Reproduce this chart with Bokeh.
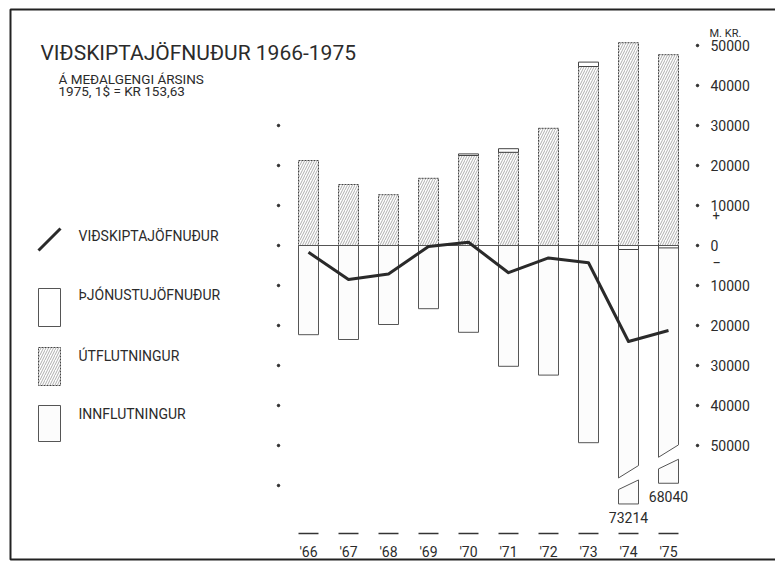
from bokeh.plotting import figure
from bokeh.models import Range1d, Label
from bokeh.core.properties import value
from bokeh.embed import file_html
from bokeh.resources import INLINE

# ---------------- data (millions of kr, 1975 average rate) ----------------
years = [1966, 1967, 1968, 1969, 1970, 1971, 1972, 1973, 1974, 1975]
year_labels = ["'66", "'67", "'68", "'69", "'70", "'71", "'72", "'73", "'74", "'75"]
exports = [21250, 15250, 12700, 16800, 22500, 23300, 29300, 44750, 50700, 47700]
services = [0, 0, 0, 0, 400, 900, 0, 1100, -1000, -600]
imports = [22300, 23500, 19750, 15800, 21700, 30200, 32400, 49300, 73214, 68040]
trade_balance = [-1700, -8500, -7100, -250, 800, -6800, -3100, -4300, -24000, -21250]

right_ticks = [50000, 40000, 30000, 20000, 10000, 0, -10000, -20000, -30000, -40000, -50000]
right_tick_labels = ["50000", "40000", "30000", "20000", "10000", "0",
                     "10000", "20000", "30000", "40000", "50000"]
left_ticks = [30000, 20000, 10000, 0, -10000, -20000, -30000, -40000, -50000, -60000]

title = "VIÐSKIPTAJÖFNUÐUR 1966-1975"
subtitle = ["Á MEÐALGENGI ÁRSINS", "1975, 1$ = KR 153,63"]
unit_label = "M. KR."
legend_labels = ["VIÐSKIPTAJÖFNUÐUR", "ÞJÓNUSTUJÖFNUÐUR", "ÚTFLUTNINGUR", "INNFLUTNINGUR"]

# ---------------- layout helpers ----------------
W, H = 775, 563
FONT = value("Roboto")
INK = "#2b2b2b"
GRAY = "#555555"


def px_x(ix):  # screen pixel -> data x
    return 1966 + (ix - 308) / 40.0


def px_y(iy):  # screen pixel -> data y
    return (245 - iy) * 250.0


p = figure(width=W, height=H, output_backend="svg", toolbar_location=None,
           x_range=Range1d(px_x(0), px_x(W)), y_range=Range1d(px_y(H), px_y(0)),
           x_axis_type=None, y_axis_type=None, min_border=0)
p.grid.visible = False
p.outline_line_color = None
p.background_fill_color = "white"

# frame (left, top, bottom)
p.line([px_x(775), px_x(10), px_x(10), px_x(775)], [px_y(9), px_y(9), px_y(559), px_y(559)],
       line_color="#222222", line_width=2)

BW = 0.5  # bar width in years
HATCH = dict(hatch_pattern="/", hatch_color="#8a8a8a", hatch_scale=5, hatch_weight=0.7)

# exports (hatched, dashed outline)
p.vbar(x=years, top=exports, bottom=0, width=BW, fill_color="white",
       line_color="#444444", line_dash="2 1", line_width=1, **HATCH)

# positive services stacked above exports
sx = [y for y, s in zip(years, services) if s > 0]
sb = [e for e, s in zip(exports, services) if s > 0]
st = [e + s for e, s in zip(exports, services) if s > 0]
p.vbar(x=sx, bottom=sb, top=st, width=BW, fill_color="white", line_color="#444444", line_width=1)

# imports
LIMIT = 60000
CUT = 8600
nx = [y for y, v in zip(years, imports) if v <= LIMIT]
nb = [-v for v in imports if v <= LIMIT]
p.vbar(x=nx, top=0, bottom=nb, width=BW, fill_color="#fcfcfc", line_color=GRAY, line_width=1)

bxs, bys, sxs, sys_, blab_x, blab_y, blab_t = [], [], [], [], [], [], []
for y, v in zip(years, imports):
    if v > LIMIT:
        b = -(v - CUT)
        l, r = y - BW / 2, y + BW / 2
        bxs.append([l, r, r, l])
        bys.append([0, 0, b + 9600, b + 6500])
        sxs.append([l, r, r, l])
        sys_.append([b + 3600, b + 6000, b, b])
        blab_x.append(y)
        blab_y.append(b - 3300)
        blab_t.append(str(v))
p.patches(bxs, bys, fill_color="#fcfcfc", line_color=GRAY, line_width=1)
p.patches(sxs, sys_, fill_color="#fcfcfc", line_color=GRAY, line_width=1)
p.text(x=blab_x, y=blab_y, text=blab_t, text_font=FONT, text_font_size="14px",
       text_color=INK, text_align="center", text_baseline="middle")

# negative services at top of import side
nsx = [y for y, s in zip(years, services) if s < 0]
nst = [s for s in services if s < 0]
p.vbar(x=nsx, top=0, bottom=nst, width=BW, fill_color="white", line_color="#444444", line_width=1)

# zero line
p.line([years[0] - BW / 2, years[-1] + BW / 2], [0, 0], line_color=GRAY, line_width=1)

# trade balance line
p.line(years, trade_balance, line_color="#2a2a2a", line_width=3, line_join="round")

# dot scales
p.scatter(x=[px_x(278)] * len(left_ticks), y=left_ticks, size=2.5, color=INK)
p.scatter(x=[px_x(697)] * len(right_ticks), y=right_ticks, size=2.5, color=INK)
p.text(x=[px_x(710)] * len(right_ticks), y=right_ticks, text=right_tick_labels,
       text_font=FONT, text_font_size="14px", text_color=INK,
       text_align="left", text_baseline="middle")
p.add_layout(Label(x=px_x(709), y=px_y(33), text=unit_label, text_font="Roboto",
                   text_font_size="11px", text_color=INK, text_baseline="middle"))
p.add_layout(Label(x=px_x(712), y=px_y(215), text="+", text_font="Roboto",
                   text_font_size="13px", text_color=INK, text_baseline="middle"))
p.add_layout(Label(x=px_x(712), y=px_y(262), text="\u2212", text_font="Roboto",
                   text_font_size="15px", text_color=INK, text_baseline="middle"))

# year marks
p.segment(x0=[y - BW / 2 for y in years], x1=[y + BW / 2 for y in years],
          y0=[px_y(533)] * len(years), y1=[px_y(533)] * len(years),
          line_color="#333333", line_width=1.5)
p.text(x=years, y=[px_y(551)] * len(years), text=year_labels, text_font=FONT,
       text_font_size="14px", text_color=INK, text_align="center", text_baseline="middle")

# titles
p.add_layout(Label(x=px_x(40), y=px_y(52), text=title, text_font="Roboto",
                   text_font_size="21px", text_color=INK, text_baseline="middle"))
for i, s in enumerate(subtitle):
    p.add_layout(Label(x=px_x(58), y=px_y(78 + 12 * i), text=s, text_font="Roboto",
                       text_font_size="13.5px", text_color=INK, text_baseline="middle"))

# legend (drawn by hand)
p.line([px_x(38), px_x(60)], [px_y(250), px_y(228)], line_color="#2a2a2a", line_width=3)
p.quad(left=px_x(38), right=px_x(60), top=px_y(288), bottom=px_y(326),
       fill_color="white", line_color=GRAY, line_width=1)
p.quad(left=px_x(38), right=px_x(60), top=px_y(347), bottom=px_y(385),
       fill_color="white", line_color="#444444", line_dash="2 1", line_width=1, **HATCH)
p.quad(left=px_x(38), right=px_x(60), top=px_y(405), bottom=px_y(441),
       fill_color="#fcfcfc", line_color=GRAY, line_width=1)
for s, iy in zip(legend_labels, [235, 294, 355, 413]):
    p.add_layout(Label(x=px_x(78), y=px_y(iy), text=s, text_font="Roboto",
                       text_font_size="14px", text_color=INK, text_baseline="middle"))

open("out.html", "w").write(file_html(p, INLINE))
